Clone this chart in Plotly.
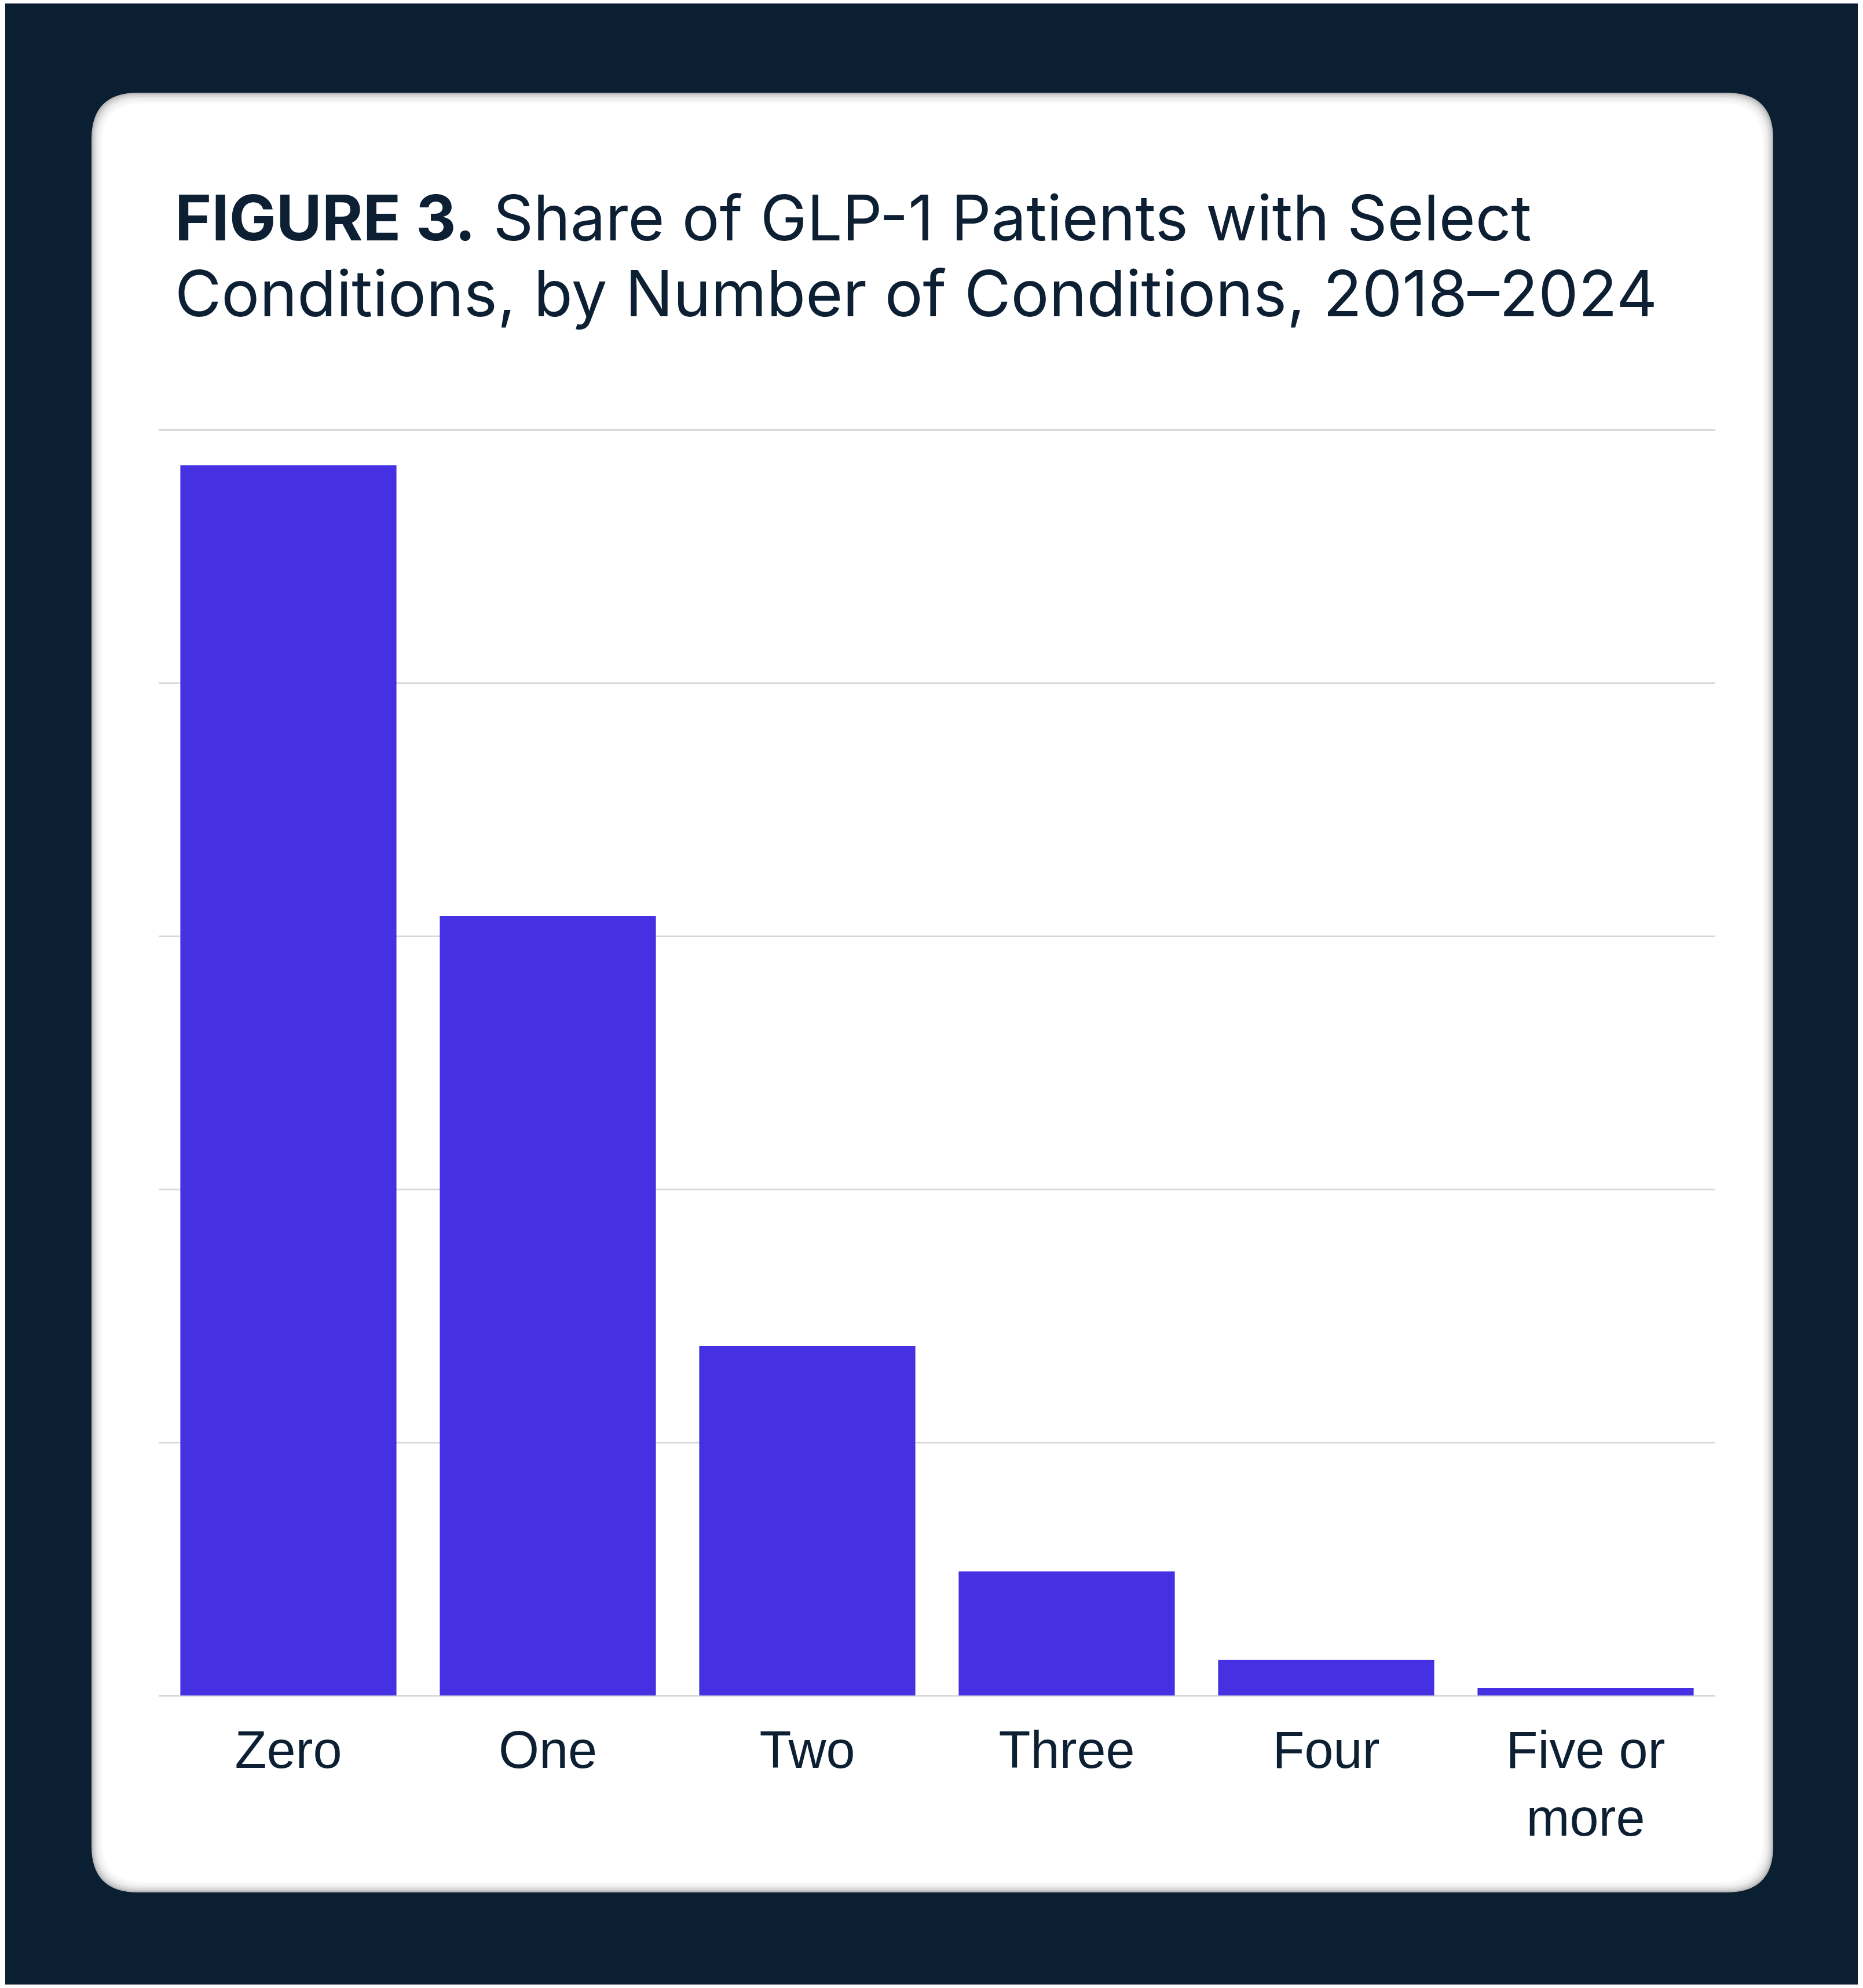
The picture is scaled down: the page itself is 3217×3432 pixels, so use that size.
import plotly.graph_objects as go

W, H = 3217, 3432

categories = ["Zero", "One", "Two", "Three", "Four", "Five or<br>more"]
shares = [48.6, 30.8, 13.8, 4.9, 1.4, 0.3]
y_ticks = [0, 10, 20, 30, 40, 50]
title_line1 = "<b>FIGURE 3.</b> Share of GLP-1 Patients with Select"
title_line2 = "Conditions, by Number of Conditions, 2018–2024"

NAVY = "#0B1F33"
BAR = "#4531E1"
GRID = "#D9D9D9"


def px(x):
    return x / W


def py(y):
    return 1 - y / H


def rrect(x0, y0, x1, y1, r):
    # rounded rectangle path in paper coords from pixel coords
    pts = [
        f"M {px(x0 + r)},{py(y0)}",
        f"L {px(x1 - r)},{py(y0)}",
        f"Q {px(x1)},{py(y0)} {px(x1)},{py(y0 + r)}",
        f"L {px(x1)},{py(y1 - r)}",
        f"Q {px(x1)},{py(y1)} {px(x1 - r)},{py(y1)}",
        f"L {px(x0 + r)},{py(y1)}",
        f"Q {px(x0)},{py(y1)} {px(x0)},{py(y1 - r)}",
        f"L {px(x0)},{py(y0 + r)}",
        f"Q {px(x0)},{py(y0)} {px(x0 + r)},{py(y0)}",
        "Z",
    ]
    return " ".join(pts)


shapes = [
    dict(type="rect", xref="paper", yref="paper", x0=px(9), x1=px(3208), y0=py(3426), y1=py(6),
         fillcolor=NAVY, line=dict(width=0), layer="below"),
]
cx0, cy0, cx1, cy1, cr = 158, 160, 3062, 3267, 80
for inset, col in [(0, "#b8b8b8"), (2, "#c8c8c8"), (4, "#d8d8d8"), (7, "#e6e6e6"),
                   (10, "#f1f1f1"), (14, "#f9f9f9"), (18, "#ffffff")]:
    shapes.append(dict(type="path", xref="paper", yref="paper",
                       path=rrect(cx0 + inset, cy0 + inset, cx1 - inset, cy1 - inset, cr - inset * 0.5),
                       fillcolor=col, line=dict(width=0), layer="below"))

fig = go.Figure(go.Bar(
    x=categories, y=shares, marker=dict(color=BAR, line=dict(width=0)),
    hoverinfo="skip",
))

# plot area: y=0 at 2927 px, y=50 at 742 px; range padded slightly so edge gridlines render
unit = (2927 - 742) / 50.0
pad = 0.1
fig.update_layout(
    width=W, height=H,
    margin=dict(l=0, r=0, t=0, b=0),
    paper_bgcolor="white",
    plot_bgcolor="rgba(0,0,0,0)",
    showlegend=False,
    bargap=0.167,
    shapes=shapes,
    xaxis=dict(domain=[px(274), px(2962)], range=[-0.5, 5.5], showgrid=False, zeroline=False,
               showline=False, ticks="", ticklabelstandoff=30,
               tickfont=dict(family="Liberation Sans, Arial", size=90, color="#0C1F33")),
    yaxis=dict(domain=[py(2927 + pad * unit), py(742 - pad * unit)], range=[-pad, 50 + pad],
               tickvals=y_ticks, showticklabels=False,
               showgrid=True, gridcolor=GRID, gridwidth=3, zeroline=False, showline=False),
    annotations=[
        dict(xref="paper", yref="paper", x=px(300), y=py(443), xanchor="left", yanchor="bottom",
             text=title_line1, showarrow=False,
             font=dict(family="Inter", size=108, color="#0C1F33")),
        dict(xref="paper", yref="paper", x=px(300), y=py(575), xanchor="left", yanchor="bottom",
             text=title_line2, showarrow=False,
             font=dict(family="Inter", size=110, color="#0C1F33")),
    ],
)

fig.write_html("out.html")
